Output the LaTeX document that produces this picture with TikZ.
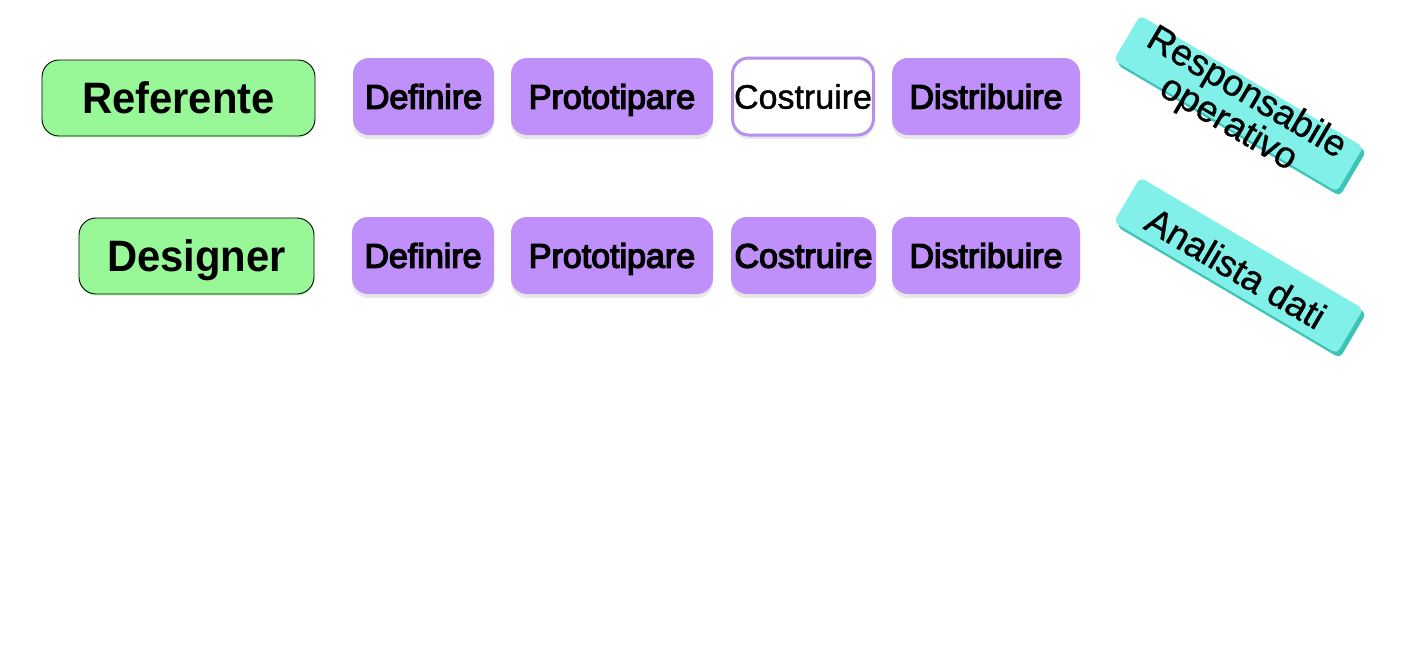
\documentclass[tikz,border=0pt]{standalone}
\usepackage{fontspec}
\setmainfont{Liberation Sans}
\newfontfamily\gfont[FakeStretch=0.95]{Liberation Sans Bold}
\newfontfamily\pfont[FakeBold=4]{Liberation Sans}
\newfontfamily\rfont[FakeBold=0.8]{Liberation Sans}
\newfontfamily\cfont[FakeBold=1.2]{Liberation Sans}
\usetikzlibrary{shadows}
\definecolor{grn}{HTML}{98F898}
\definecolor{pur}{HTML}{BF8FFA}
\definecolor{purline}{HTML}{B590EC}
\definecolor{teal1}{HTML}{80F0E8}
\definecolor{teal2}{HTML}{3EC4B6}
\tikzset{
  rolebox/.style={draw=black, line width=0.9pt, fill=grn, rounded corners=17pt,
    minimum height=76pt, inner sep=0pt, text height=31.5pt, text depth=0pt,
    font=\gfont\fontsize{44}{44}\selectfont,
    drop shadow={opacity=0.25, shadow xshift=0pt, shadow yshift=-2pt, fill=green!60}},
  phase/.style={fill=pur, rounded corners=16pt, minimum height=77pt, inner sep=0pt,
    text height=24.3pt, text depth=0pt, font=\pfont\fontsize{34}{34}\selectfont,
    drop shadow={opacity=0.18, shadow xshift=0pt, shadow yshift=-4pt}},
  phasewhite/.style={phase, fill=white, draw=purline, line width=3pt,
    font=\cfont\fontsize{34}{34}\selectfont},
  tilt/.style={fill=teal1, rounded corners=5pt, minimum width=259pt, minimum height=52pt,
    inner sep=0pt, rotate=-30.5},
  tiltedge/.style={fill=teal2, rounded corners=5pt, minimum width=259pt, minimum height=52pt,
    inner sep=0pt, rotate=-30.5},
  tilttext/.style={rotate=-30.5, align=center, inner sep=0pt,
    font=\rfont\fontsize{37}{31}\selectfont}
}
\begin{document}
\begin{tikzpicture}[x=1pt,y=-1pt]
\useasboundingbox (0,0) rectangle (1409,662);
% roles
\node[rolebox, minimum width=273pt] (ref) at (178.5,98) {Referente};
\node[rolebox, minimum width=235pt] (des) at (196.5,256) {Designer};
% row 1
\node[phase, minimum width=141pt] (d1) at (423.5,96.5) {Definire};
\node[phase, minimum width=202pt] (p1) at (612,96.5) {Prototipare};
\node[phasewhite, minimum width=141pt] (c1) at (803,96.5) {Costruire};
\node[phase, minimum width=188pt] (s1) at (986,96.5) {Distribuire};
% row 2
\node[phase, minimum width=142pt] (d2) at (423,255.5) {Definire};
\node[phase, minimum width=202pt] (p2) at (612,255.5) {Prototipare};
\node[phase, minimum width=145pt] (c2) at (803.5,255.5) {Costruire};
\node[phase, minimum width=188pt] (s2) at (986,255.5) {Distribuire};
% tilted boxes
\node[tiltedge] (e1) at (1241.5,108) {};
\node[tilt] (t1) at (1238.5,103.5) {};
\node[tilttext] (l1) at (1237,109) {Responsabile\\operativo};
\node[tiltedge] (e2) at (1241.5,270) {};
\node[tilt] (t2) at (1238.5,265.5) {};
\node[tilttext] (l2) at (1236,268) {Analista dati};
\end{tikzpicture}
\end{document}
